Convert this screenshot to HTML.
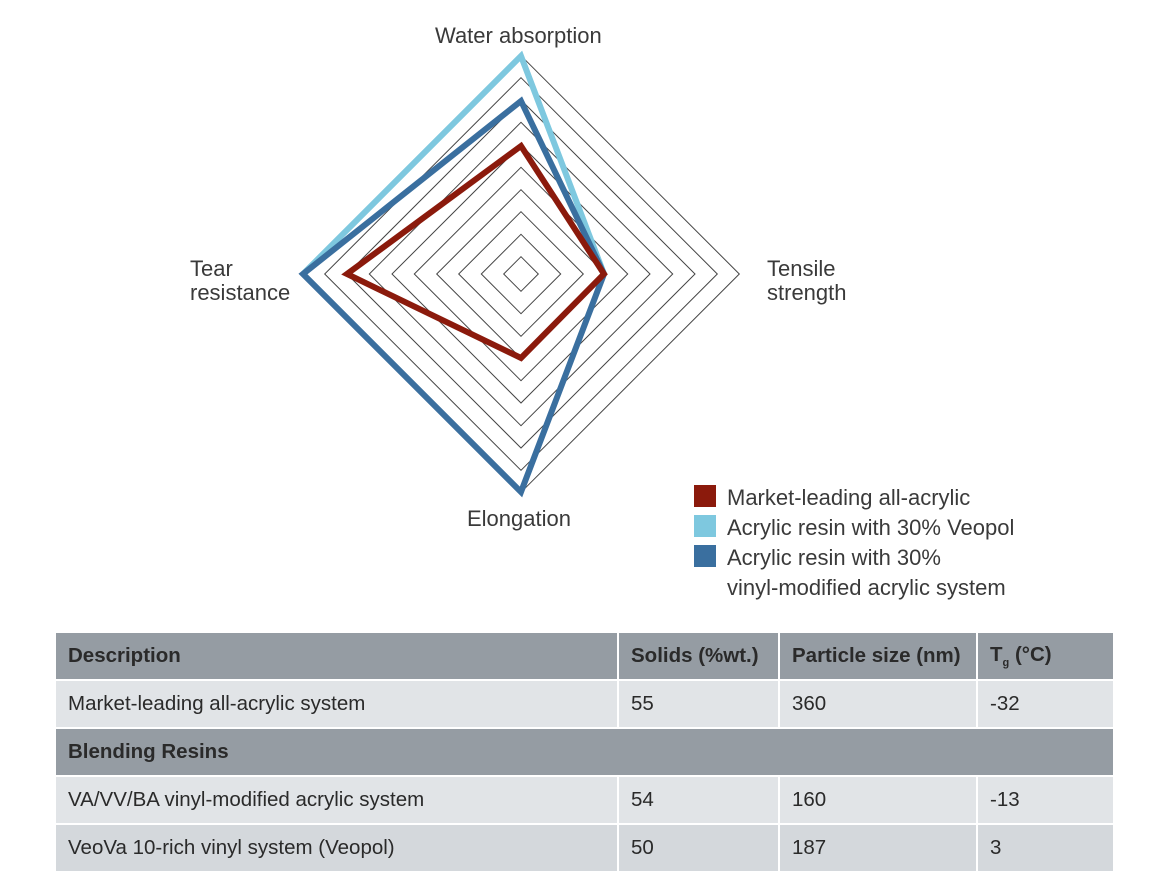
<!DOCTYPE html>
<html><head><meta charset="utf-8"><style>
body{margin:0;width:1170px;height:878px;background:#fff;font-family:"Liberation Sans",Arial,sans-serif;color:#333;position:relative;overflow:hidden}
.t{position:absolute;font-size:22px;line-height:24px;color:#3a3a3a}
table{position:absolute;left:56px;top:633px;border-collapse:collapse;font-size:20.5px;color:#2a2a2a;table-layout:fixed}
td{height:46px;padding:0 12px;border:2px solid #fff;border-top:0;border-left:0;white-space:nowrap;overflow:hidden}
tr.h td{background:#959ca3;font-weight:bold}
tr.a td{background:#e1e4e7}
tr.b td{background:#d4d8dc}
</style></head><body>
<svg width="1170" height="620" style="position:absolute;left:0;top:0">
<g fill="none" stroke="#444" stroke-width="1">
<polygon points="521,256.7 538.3,274 521,291.3 503.7,274"/>
<polygon points="521,234.3 560.7,274 521,313.7 481.3,274"/>
<polygon points="521,211.7 583.3,274 521,336.3 458.7,274"/>
<polygon points="521,189.7 605.3,274 521,358.3 436.7,274"/>
<polygon points="521,167.3 627.7,274 521,380.7 414.3,274"/>
<polygon points="521,145 650,274 521,403 392,274"/>
<polygon points="521,122.3 672.7,274 521,425.7 369.3,274"/>
<polygon points="521,100 695,274 521,448 347,274"/>
<polygon points="521,77.7 717.3,274 521,470.3 324.7,274"/>
<polygon points="521,55.7 739.3,274 521,492.3 302.7,274"/>
</g>
<g fill="none" stroke-width="6" stroke-linejoin="miter">
<polyline points="303,274 521,56 604,274" stroke="#7ec8df"/>
<polygon points="521,101 604,274 521,492 303,274" stroke="#3a6f9f"/>
<polygon points="521,146 604,274 521,358 347,274" stroke="#8b1a0c"/>
</g>
</svg>
<div class="t" style="left:435px;top:24px">Water absorption</div>
<div class="t" style="left:190px;top:257px">Tear<br>resistance</div>
<div class="t" style="left:767px;top:257px">Tensile<br>strength</div>
<div class="t" style="left:467px;top:507px">Elongation</div>
<div style="position:absolute;left:694px;top:485px;width:22px;height:22px;background:#8b1a0c"></div>
<div style="position:absolute;left:694px;top:515px;width:22px;height:22px;background:#7ec8df"></div>
<div style="position:absolute;left:694px;top:545px;width:22px;height:22px;background:#3a6f9f"></div>
<div class="t" style="left:727px;top:483px;line-height:30px">Market-leading all-acrylic<br>Acrylic resin with 30% Veopol<br>Acrylic resin with 30%<br>vinyl-modified acrylic system</div>
<table style="width:1058px">
<colgroup><col style="width:562px"><col style="width:161px"><col style="width:198px"><col style="width:137px"></colgroup>
<tr class="h"><td>Description</td><td>Solids (%wt.)</td><td>Particle size (nm)</td><td>T<sub style="font-size:11px">g</sub> (°C)</td></tr>
<tr class="a"><td>Market-leading all-acrylic system</td><td>55</td><td>360</td><td>-32</td></tr>
<tr class="h"><td colspan="4">Blending Resins</td></tr>
<tr class="a"><td>VA/VV/BA vinyl-modified acrylic system</td><td>54</td><td>160</td><td>-13</td></tr>
<tr class="b"><td>VeoVa 10-rich vinyl system (Veopol)</td><td>50</td><td>187</td><td>3</td></tr>
</table>
</body></html>
